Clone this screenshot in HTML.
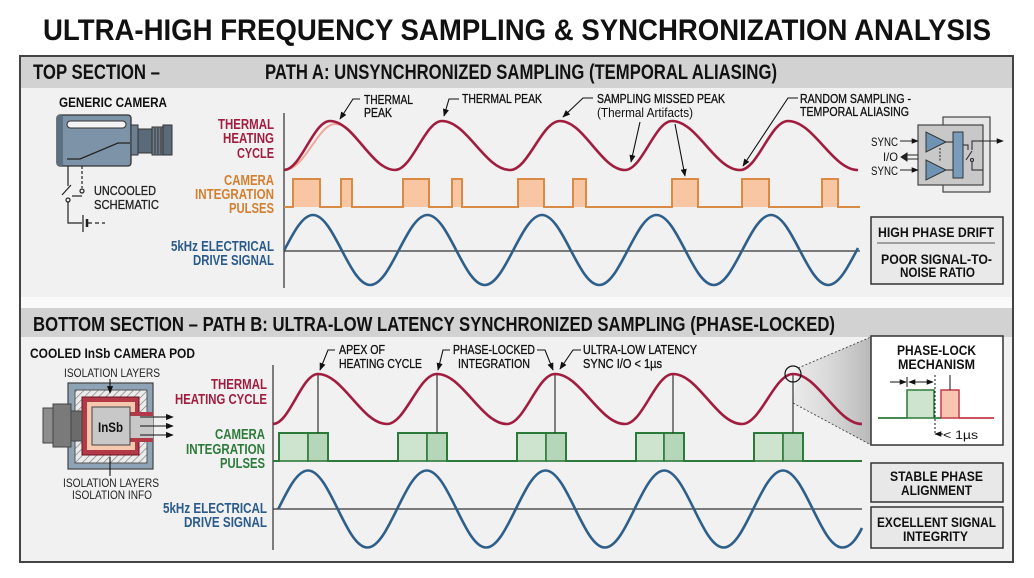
<!DOCTYPE html>
<html><head><meta charset="utf-8"><style>
html,body{margin:0;padding:0;background:#fff;}
svg{display:block;}
text{font-family:"Liberation Sans",Arial,sans-serif;}
.b{font-weight:bold;}
.an{font-size:12.5px;fill:#111;stroke:#111;stroke-width:0.3;}
</style></head><body>
<svg width="1034" height="578" viewBox="0 0 1034 578" xmlns="http://www.w3.org/2000/svg">
<defs>
<marker id="ar" viewBox="0 0 10 10" refX="9" refY="5" markerWidth="7" markerHeight="7" orient="auto-start-reverse"><path d="M0,1 L10,5 L0,9 z" fill="#111"/></marker>
<pattern id="hatch" width="5" height="5" patternUnits="userSpaceOnUse" patternTransform="rotate(45)"><rect width="5" height="5" fill="#ececec"/><line x1="0" y1="0" x2="0" y2="5" stroke="#777" stroke-width="1.3"/></pattern>
<linearGradient id="cone" x1="0" y1="0" x2="1" y2="0"><stop offset="0" stop-color="#d8d8d8" stop-opacity="0.3"/><stop offset="1" stop-color="#b8b8b8"/></linearGradient>
</defs>
<rect width="1034" height="578" fill="#fff"/>
<!-- title -->
<text x="43" y="40" font-size="30" class="b" fill="#111" textLength="948" lengthAdjust="spacingAndGlyphs">ULTRA-HIGH FREQUENCY SAMPLING &amp; SYNCHRONIZATION ANALYSIS</text>

<!-- frame -->
<rect x="20" y="56" width="993" height="506" fill="#f1f1f1" stroke="#444" stroke-width="2"/>
<rect x="21" y="57" width="991" height="31" fill="#d2d2d2"/>
<rect x="21" y="297" width="991" height="11" fill="#fafafa"/>
<rect x="21" y="308" width="991" height="29" fill="#d2d2d2"/>

<text x="33" y="79" font-size="21" class="b" fill="#111" textLength="127" lengthAdjust="spacingAndGlyphs">TOP SECTION –</text>
<text x="265" y="79" font-size="21" class="b" fill="#111" textLength="512" lengthAdjust="spacingAndGlyphs">PATH A: UNSYNCHRONIZED SAMPLING (TEMPORAL ALIASING)</text>
<text x="33" y="331" font-size="20.5" class="b" fill="#111" textLength="802" lengthAdjust="spacingAndGlyphs">BOTTOM SECTION – PATH B: ULTRA-LOW LATENCY SYNCHRONIZED SAMPLING (PHASE-LOCKED)</text>

<!-- ===== TOP LEFT CAMERA ===== -->
<text x="59" y="107" font-size="13.5" class="b" fill="#111" textLength="108" lengthAdjust="spacingAndGlyphs">GENERIC CAMERA</text>
<rect x="57" y="115" width="74" height="51" rx="3" fill="#7d93a7" stroke="#333" stroke-width="1.3"/>
<rect x="57" y="115" width="6" height="51" rx="2" fill="#5d7082"/>
<rect x="67" y="121" width="59" height="7" rx="3.5" fill="#f4f4f4" stroke="#333" stroke-width="1"/>
<polyline points="67,159 80,159 118,143 130,143" fill="none" stroke="#222" stroke-width="1.3"/>
<rect x="131" y="125" width="7" height="30" fill="#6d7f90" stroke="#333" stroke-width="1"/>
<rect x="138" y="129" width="14" height="24" fill="#5a6a78" stroke="#333" stroke-width="1"/>
<rect x="152" y="127" width="11" height="28" fill="#6c7c8a" stroke="#333" stroke-width="1"/>
<g stroke="#333" stroke-width="1"><line x1="155" y1="128" x2="155" y2="154"/><line x1="158" y1="128" x2="158" y2="154"/><line x1="161" y1="128" x2="161" y2="154"/></g>
<rect x="163" y="125" width="9" height="30" fill="#5a6a78" stroke="#333" stroke-width="1"/>
<g stroke="#222" stroke-width="1.2" fill="none">
<line x1="68" y1="166" x2="68" y2="186"/>
<line x1="62" y1="195" x2="71" y2="185"/>
<line x1="82" y1="166" x2="82" y2="188" stroke-dasharray="3,2"/>
<circle cx="82" cy="191" r="2"/>
<line x1="72" y1="196" x2="82" y2="196"/>
<circle cx="68" cy="200" r="2"/>
<polyline points="68,202 68,223 82,223"/>
<line x1="83" y1="215" x2="83" y2="232"/>
<line x1="87" y1="219" x2="87" y2="227" stroke-width="2.5"/>
<line x1="88" y1="223" x2="105" y2="223" stroke-dasharray="4,3"/>
</g>
<text x="94" y="195" font-size="13" fill="#222" stroke="#222" stroke-width="0.3" textLength="62" lengthAdjust="spacingAndGlyphs">UNCOOLED</text>
<text x="94" y="209" font-size="13" fill="#222" stroke="#222" stroke-width="0.3" textLength="65" lengthAdjust="spacingAndGlyphs">SCHEMATIC</text>

<!-- top labels -->
<g class="b" font-size="14.5">
<text x="218" y="129" fill="#a11d3f" textLength="56" lengthAdjust="spacingAndGlyphs">THERMAL</text>
<text x="223" y="143" fill="#a11d3f" textLength="51" lengthAdjust="spacingAndGlyphs">HEATING</text>
<text x="237" y="158" fill="#a11d3f" textLength="37" lengthAdjust="spacingAndGlyphs">CYCLE</text>
<text x="224" y="185" fill="#d37f2f" textLength="50" lengthAdjust="spacingAndGlyphs">CAMERA</text>
<text x="195" y="199" fill="#d37f2f" textLength="79" lengthAdjust="spacingAndGlyphs">INTEGRATION</text>
<text x="229" y="213" fill="#d37f2f" textLength="45" lengthAdjust="spacingAndGlyphs">PULSES</text>
<text x="171" y="251" fill="#2a5a8a" textLength="103" lengthAdjust="spacingAndGlyphs">5kHz ELECTRICAL</text>
<text x="193" y="265" fill="#2a5a8a" textLength="81" lengthAdjust="spacingAndGlyphs">DRIVE SIGNAL</text>
</g>

<!-- top axes -->
<line x1="284" y1="113" x2="284" y2="288" stroke="#555" stroke-width="1.5"/>
<line x1="284" y1="251" x2="860" y2="251" stroke="#333" stroke-width="1.2"/>

<!-- top pulses -->
<g fill="#f8c6a2">
<rect x="293" y="179" width="27" height="28"/><rect x="341" y="179" width="11" height="28"/>
<rect x="403" y="179" width="26" height="28"/><rect x="452" y="179" width="10" height="28"/>
<rect x="518" y="179" width="26" height="28"/><rect x="573" y="179" width="13" height="28"/>
<rect x="672" y="179" width="26" height="28"/><rect x="742" y="179" width="27" height="28"/>
<rect x="822" y="179" width="16" height="28"/>
</g>
<path d="M284,207 H293 V179 H320 V207 H341 V179 H352 V207 H403 V179 H429 V207 H452 V179 H462 V207 H518 V179 H544 V207 H573 V179 H586 V207 H672 V179 H698 V207 H742 V179 H769 V207 H822 V179 H838 V207 H860" fill="none" stroke="#d98a45" stroke-width="2"/>

<!-- top thermal -->
<path d="M284,170 C305,170 318,124 335,124 C345,124 352,132 358,140" fill="none" stroke="#f0a898" stroke-width="2"/>
<path d="M284,170 C300.75,170 313.25,121 330,121 C353.67,121 371.33,170 395,170 C412.1,170 424.9,121 442,121 C466.77,121 485.23,170 510,170 C528.2,170 541.8,121 560,121 C583.67,121 601.33,170 625,170 C642.1,170 654.9,121 672,121 C696.77,121 715.23,170 740,170 C757.5,170 770.5,121 788,121 C813.5,121 832.5,170 858,170" fill="none" stroke="#a11d3f" stroke-width="2.6"/>

<!-- top blue -->
<path d="M284.4,250 C293.7,232.1 302.7,215 313,215 C333.85,215 349.4,285 370.25,285 C391.1,285 406.65,215 427.5,215 C448.35,215 463.9,285 484.75,285 C505.6,285 521.15,215 542,215 C562.85,215 578.4,285 599.25,285 C620.1,285 635.65,215 656.5,215 C677.35,215 692.9,285 713.75,285 C734.6,285 750.15,215 771,215 C791.85,215 807.4,285 828.25,285 C838.6,285 847.55,267.9 858,248" fill="none" stroke="#2e5f8a" stroke-width="2.6"/>

<!-- top annotations -->
<g fill="none" stroke="#111" stroke-width="1.1">
<polyline points="360,99 353,99 340,119" marker-end="url(#ar)"/>
<polyline points="459,99 449,99 444,116" marker-end="url(#ar)"/>
<polyline points="593,98 583,98 563,117" marker-end="url(#ar)"/>
<line x1="640" y1="122" x2="631" y2="162" marker-end="url(#ar)"/>
<line x1="675" y1="124" x2="685" y2="176" marker-end="url(#ar)"/>
<polyline points="798,98 788,98 743,166" marker-end="url(#ar)"/>
</g>
<text class="an" x="364" y="104" textLength="49" lengthAdjust="spacingAndGlyphs">THERMAL</text>
<text class="an" x="364" y="117" textLength="28" lengthAdjust="spacingAndGlyphs">PEAK</text>
<text class="an" x="462" y="103" textLength="80" lengthAdjust="spacingAndGlyphs">THERMAL PEAK</text>
<text class="an" x="597" y="103" textLength="128" lengthAdjust="spacingAndGlyphs">SAMPLING MISSED PEAK</text>
<text x="597" y="117" font-size="12.5" fill="#111" textLength="96" lengthAdjust="spacingAndGlyphs">(Thermal Artifacts)</text>
<text class="an" x="800" y="103" textLength="111" lengthAdjust="spacingAndGlyphs">RANDOM SAMPLING -</text>
<text class="an" x="800" y="116" textLength="109" lengthAdjust="spacingAndGlyphs">TEMPORAL ALIASING</text>

<!-- sync box -->
<rect x="943" y="117" width="47" height="75" fill="#e6e6e6" stroke="#444" stroke-width="1.2"/>
<rect x="918" y="125" width="65" height="60" fill="#c8c8c8" stroke="#444" stroke-width="1.2"/>
<path d="M926,132 L926,152 L946,142 z" fill="#6f93b3" stroke="#333" stroke-width="1"/>
<path d="M926,160 L926,180 L946,170 z" fill="#6f93b3" stroke="#333" stroke-width="1"/>
<rect x="953" y="132" width="10" height="46" fill="#7a9cbc" stroke="#333" stroke-width="1"/>
<g stroke="#222" stroke-width="1" fill="none">
<line x1="946" y1="142" x2="953" y2="142"/>
<line x1="946" y1="170" x2="953" y2="170"/>
<line x1="940" y1="148" x2="940" y2="162" stroke-dasharray="2,1.5"/>
<polyline points="963,145 968,145 968,150"/>
<line x1="966" y1="160" x2="972" y2="151"/>
<circle cx="972" cy="160" r="1.5"/>
<polyline points="972,162 972,170 983,170"/>
<polyline points="972,150 972,141 1003,141" marker-end="url(#ar)"/>
<line x1="900" y1="141" x2="918" y2="141" marker-end="url(#ar)"/>
<line x1="900" y1="170" x2="918" y2="170" marker-end="url(#ar)"/>
<line x1="905" y1="155" x2="918" y2="155"/>
<line x1="905" y1="159" x2="918" y2="159"/>
<path d="M901,157 L907,153 L907,161 z" fill="#222"/>
</g>
<text x="871" y="146" font-size="12" fill="#111" textLength="27" lengthAdjust="spacingAndGlyphs">SYNC</text>
<text x="883" y="161" font-size="12" fill="#111" textLength="15" lengthAdjust="spacingAndGlyphs">I/O</text>
<text x="871" y="175" font-size="12" fill="#111" textLength="27" lengthAdjust="spacingAndGlyphs">SYNC</text>

<!-- high phase drift box -->
<rect x="871" y="217" width="132" height="67" fill="#e9e9e9" stroke="#333" stroke-width="1.5"/>
<line x1="877" y1="243" x2="995" y2="243" stroke="#555" stroke-width="1"/>
<g class="b" font-size="13.5" fill="#111">
<text x="878" y="237" textLength="116" lengthAdjust="spacingAndGlyphs">HIGH PHASE DRIFT</text>
<text x="881" y="264" textLength="111" lengthAdjust="spacingAndGlyphs">POOR SIGNAL-TO-</text>
<text x="900" y="277" textLength="75" lengthAdjust="spacingAndGlyphs">NOISE RATIO</text>
</g>

<!-- ===== BOTTOM LEFT POD ===== -->
<text x="30" y="358" font-size="13.5" class="b" fill="#111" textLength="165" lengthAdjust="spacingAndGlyphs">COOLED InSb CAMERA POD</text>
<text x="64" y="377" font-size="12" fill="#222" textLength="96" lengthAdjust="spacingAndGlyphs">ISOLATION LAYERS</text>
<text x="63" y="487" font-size="12" fill="#222" textLength="96" lengthAdjust="spacingAndGlyphs">ISOLATION LAYERS</text>
<text x="72" y="499" font-size="12" fill="#222" textLength="80" lengthAdjust="spacingAndGlyphs">ISOLATION INFO</text>
<rect x="68" y="383" width="85" height="86" fill="#8ea3b5" stroke="#444" stroke-width="1.2"/>
<rect x="75" y="390" width="72" height="73" fill="url(#hatch)" stroke="#555" stroke-width="1"/>
<rect x="82" y="397" width="57" height="58" fill="#b23a48" stroke="#6a1520" stroke-width="1"/>
<rect x="87" y="402" width="48" height="48" fill="#f6c9ae"/>
<rect x="128" y="412" width="25" height="30" fill="#b23a48"/>
<rect x="128" y="416" width="25" height="22" fill="#c8c8c8"/>
<rect x="92" y="407" width="38" height="38" fill="#c8c8c8" stroke="#444" stroke-width="1"/>
<rect x="66" y="411" width="16" height="30" fill="#6b6b6b" stroke="#444" stroke-width="1"/>
<rect x="53" y="404" width="18" height="43" fill="#7a7a7a" stroke="#444" stroke-width="1"/>
<rect x="43" y="408" width="10" height="35" fill="#8d8d8d" stroke="#444" stroke-width="1"/>
<text x="98" y="432" font-size="14" class="b" fill="#111" textLength="25" lengthAdjust="spacingAndGlyphs">InSb</text>
<g stroke="#111" stroke-width="1.1" fill="none">
<line x1="140" y1="417" x2="173" y2="417" marker-end="url(#ar)"/>
<line x1="140" y1="426" x2="173" y2="426" marker-end="url(#ar)"/>
<line x1="140" y1="435" x2="173" y2="435" marker-end="url(#ar)"/>
<line x1="110" y1="379" x2="110" y2="393" marker-end="url(#ar)"/>
<line x1="110" y1="457" x2="110" y2="476"/>
</g>

<!-- bottom labels -->
<g class="b" font-size="14.5">
<text x="211" y="389" fill="#a11d3f" textLength="56" lengthAdjust="spacingAndGlyphs">THERMAL</text>
<text x="175" y="404" fill="#a11d3f" textLength="92" lengthAdjust="spacingAndGlyphs">HEATING CYCLE</text>
<text x="215" y="439" fill="#2d7a3a" textLength="50" lengthAdjust="spacingAndGlyphs">CAMERA</text>
<text x="186" y="454" fill="#2d7a3a" textLength="79" lengthAdjust="spacingAndGlyphs">INTEGRATION</text>
<text x="220" y="468" fill="#2d7a3a" textLength="45" lengthAdjust="spacingAndGlyphs">PULSES</text>
<text x="163" y="513" fill="#2a5a8a" textLength="104" lengthAdjust="spacingAndGlyphs">5kHz ELECTRICAL</text>
<text x="184" y="527" fill="#2a5a8a" textLength="83" lengthAdjust="spacingAndGlyphs">DRIVE SIGNAL</text>
</g>

<!-- bottom axes -->
<line x1="273" y1="365" x2="273" y2="550" stroke="#555" stroke-width="1.5"/>
<line x1="273" y1="509" x2="862" y2="509" stroke="#333" stroke-width="1.2"/>

<!-- zoom cone -->
<polygon points="798,368 871,337 871,445 793,403" fill="url(#cone)"/>
<g stroke="#444" stroke-width="0.9" stroke-dasharray="2,2" fill="none">
<line x1="798" y1="368" x2="871" y2="337"/>
<line x1="793" y1="403" x2="871" y2="445"/>
</g>

<!-- bottom pulses -->
<g stroke="#2c7a3a" stroke-width="1.6">
<rect x="279" y="433" width="29" height="28" fill="#cfe4cf"/><rect x="308" y="433" width="20" height="28" fill="#b6d6b9"/>
<rect x="398" y="433" width="29" height="28" fill="#cfe4cf"/><rect x="427" y="433" width="20" height="28" fill="#b6d6b9"/>
<rect x="517" y="433" width="29" height="28" fill="#cfe4cf"/><rect x="546" y="433" width="20" height="28" fill="#b6d6b9"/>
<rect x="636" y="433" width="28" height="28" fill="#cfe4cf"/><rect x="664" y="433" width="20" height="28" fill="#b6d6b9"/>
<rect x="754" y="433" width="29" height="28" fill="#cfe4cf"/><rect x="783" y="433" width="20" height="28" fill="#b6d6b9"/>
</g>
<path d="M273,461 H279 V433 H328 V461 H398 V433 H447 V461 H517 V433 H566 V461 H636 V433 H684 V461 H754 V433 H803 V461 H862" fill="none" stroke="#2c7a3a" stroke-width="2"/>

<!-- peak lines -->
<g stroke="#333" stroke-width="1.2">
<line x1="318" y1="374" x2="318" y2="433"/><line x1="437" y1="374" x2="437" y2="433"/>
<line x1="555" y1="374" x2="555" y2="433"/><line x1="673" y1="374" x2="673" y2="433"/>
<line x1="793" y1="374" x2="793" y2="433"/>
</g>

<!-- bottom thermal -->
<path d="M273,424 C289.4,424 301.6,374 318,374 C343.1,374 361.9,424 387,424 C405.2,424 418.8,374 437,374 C462.5,374 481.5,424 507,424 C524.5,424 537.5,374 555,374 C580.5,374 599.5,424 625,424 C642.5,424 655.5,374 673,374 C698.1,374 716.9,424 742,424 C760.6,424 774.4,374 793,374 C818.1,374 836.9,424 862,424" fill="none" stroke="#a11d3f" stroke-width="2.6"/>
<circle cx="793" cy="374" r="8" fill="none" stroke="#111" stroke-width="1.2"/>

<!-- bottom blue -->
<path d="M278.3,509 C288,489.3 297.3,470.5 308,470.5 C329.6,470.5 345.8,547.5 367.4,547.5 C389,547.5 405.1,470.5 426.75,470.5 C448.4,470.5 464.5,547.5 486.1,547.5 C507.7,547.5 523.9,470.5 545.5,470.5 C567.1,470.5 583.3,547.5 604.9,547.5 C626.5,547.5 642.6,470.5 664.25,470.5 C685.9,470.5 702,547.5 723.6,547.5 C745.2,547.5 761.4,470.5 783,470.5 C804.6,470.5 820.8,547.5 842.4,547.5 C850,547.5 856,540 862,528" fill="none" stroke="#2e5f8a" stroke-width="2.6"/>

<!-- bottom annotations -->
<g fill="none" stroke="#111" stroke-width="1.1">
<polyline points="335,350 328,350 320,370" marker-end="url(#ar)"/>
<polyline points="450,350 443,350 438,370" marker-end="url(#ar)"/>
<polyline points="537,350 545,350 553,370" marker-end="url(#ar)"/>
<polyline points="581,350 573,350 560,369" marker-end="url(#ar)"/>
</g>
<text class="an" x="339" y="354" textLength="46" lengthAdjust="spacingAndGlyphs">APEX OF</text>
<text class="an" x="339" y="368" textLength="83" lengthAdjust="spacingAndGlyphs">HEATING CYCLE</text>
<text class="an" x="453" y="354" textLength="82" lengthAdjust="spacingAndGlyphs">PHASE-LOCKED</text>
<text class="an" x="458" y="368" textLength="72" lengthAdjust="spacingAndGlyphs">INTEGRATION</text>
<text class="an" x="583" y="354" textLength="114" lengthAdjust="spacingAndGlyphs">ULTRA-LOW LATENCY</text>
<text class="an" x="583" y="368" textLength="79" lengthAdjust="spacingAndGlyphs">SYNC I/O &lt; 1µs</text>

<!-- phase-lock box -->
<rect x="871" y="336" width="132" height="109" fill="#fff" stroke="#333" stroke-width="1.5"/>
<g class="b" font-size="13.5" fill="#111">
<text x="897" y="355" textLength="79" lengthAdjust="spacingAndGlyphs">PHASE-LOCK</text>
<text x="898" y="369" textLength="77" lengthAdjust="spacingAndGlyphs">MECHANISM</text>
</g>
<rect x="907" y="390" width="27" height="28" fill="#cfe4cf" stroke="#2c7a3a" stroke-width="1.5"/>
<rect x="941" y="390" width="18" height="28" fill="#f8c6b0" stroke="#c43a4a" stroke-width="1.5"/>
<line x1="878" y1="418" x2="907" y2="418" stroke="#2c7a3a" stroke-width="1.8"/>
<line x1="934" y1="418" x2="941" y2="418" stroke="#2c7a3a" stroke-width="1.8"/>
<line x1="959" y1="418" x2="994" y2="418" stroke="#c43a4a" stroke-width="1.8"/>
<g stroke="#111" stroke-width="1" fill="none">
<line x1="935" y1="375" x2="935" y2="434" stroke-dasharray="2,2"/>
<line x1="950" y1="375" x2="950" y2="390"/>
<line x1="890" y1="382" x2="906" y2="382" marker-end="url(#ar)"/>
<line x1="907" y1="377" x2="907" y2="387"/>
<line x1="909" y1="382" x2="933" y2="382" marker-start="url(#ar)" marker-end="url(#ar)"/>
<line x1="935" y1="434" x2="943" y2="434" marker-start="url(#ar)"/>
</g>
<text x="943" y="439" font-size="12" fill="#111" textLength="35" lengthAdjust="spacingAndGlyphs">&lt; 1µs</text>

<!-- result boxes -->
<rect x="871" y="463" width="132" height="39" fill="#e8e8e8" stroke="#333" stroke-width="1.5"/>
<rect x="871" y="507" width="132" height="41" fill="#e8e8e8" stroke="#333" stroke-width="1.5"/>
<g class="b" font-size="13.5" fill="#111">
<text x="890" y="481" textLength="93" lengthAdjust="spacingAndGlyphs">STABLE PHASE</text>
<text x="901" y="495" textLength="71" lengthAdjust="spacingAndGlyphs">ALIGNMENT</text>
<text x="877" y="527" textLength="119" lengthAdjust="spacingAndGlyphs">EXCELLENT SIGNAL</text>
<text x="903" y="541" textLength="65" lengthAdjust="spacingAndGlyphs">INTEGRITY</text>
</g>
</svg>
</body></html>
